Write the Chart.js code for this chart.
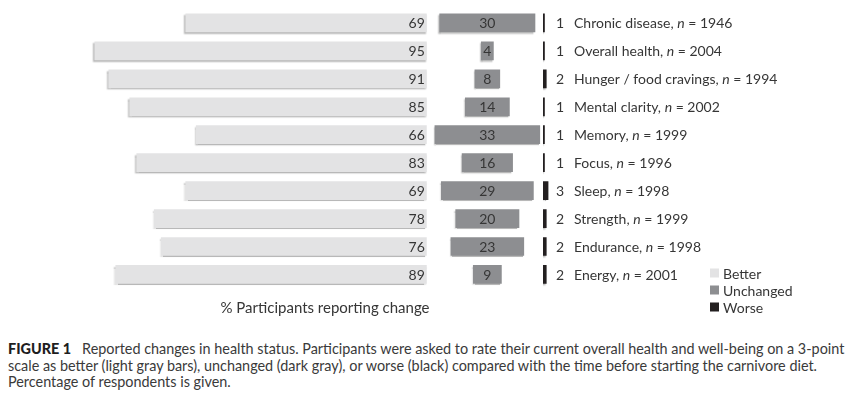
<!DOCTYPE html>
<html>
<head>
<meta charset="utf-8">
<script src="https://cdn.jsdelivr.net/npm/chart.js@4.4.0/dist/chart.umd.min.js"></script>
<style>
  body { margin: 0; background: #fff; width: 856px; height: 398px; overflow: hidden; font-family: Lato, sans-serif; }
  #wrap { position: absolute; left: 0; top: 0; width: 856px; height: 320px; }
  #caption { position: absolute; left: 8px; top: 341px; font-size: 14.4px; line-height: 16.7px; color: #3a3a3a; white-space: nowrap; }
  #caption b { color: #1e1e1e; font-weight: 900; }
</style>
</head>
<body>
<div id="wrap"><canvas id="chart"></canvas></div>
<div id="caption"><b>FIGURE 1</b>&nbsp;&nbsp; Reported changes in health status. Participants were asked to rate their current overall health and well-being on a 3-point<br>scale as better (light gray bars), unchanged (dark gray), or worse (black) compared with the time before starting the carnivore diet.<br>Percentage of respondents is given.</div>
<script>
const categories = ['Chronic disease', 'Overall health', 'Hunger / food cravings', 'Mental clarity', 'Memory',
    'Focus', 'Sleep', 'Strength', 'Endurance', 'Energy'];
const sampleSizes = [1946, 2004, 1994, 2002, 1999, 1996, 1998, 1999, 1998, 2001];
const better = [69, 95, 91, 85, 66, 83, 69, 78, 76, 89];
const unchanged = [30, 4, 8, 14, 33, 16, 29, 20, 23, 9];
const worse = [1, 1, 2, 1, 1, 1, 3, 2, 2, 2];

const textColor = '#363636';
const font = '14px Lato, sans-serif';

// soft shadow under the bars, like the original figure
const barShadow = {
    id: 'barShadow',
    beforeDatasetDraw(chart) {
        const ctx = chart.ctx;
        ctx.save();
        ctx.shadowColor = 'rgba(0,0,0,0.28)';
        ctx.shadowOffsetX = -1;
        ctx.shadowOffsetY = 1.5;
        ctx.shadowBlur = 1.5;
    },
    afterDatasetDraw(chart) {
        chart.ctx.restore();
    }
};

const labelsPlugin = {
    id: 'labelsPlugin',
    afterDatasetsDraw(chart) {
        const ctx = chart.ctx;
        ctx.save();
        ctx.font = font;
        ctx.fillStyle = textColor;
        ctx.textBaseline = 'middle';

        // better values, inside the bar end
        chart.getDatasetMeta(0).data.forEach((bar, i) => {
            ctx.textAlign = 'right';
            ctx.fillText(better[i], bar.base - 2, bar.y + 1);
        });
        // unchanged values, centred
        chart.getDatasetMeta(1).data.forEach((bar, i) => {
            ctx.textAlign = 'center';
            ctx.fillText(unchanged[i], (bar.x + bar.base) / 2, bar.y + 1);
        });
        // worse values and category labels
        chart.getDatasetMeta(2).data.forEach((bar, i) => {
            const y = bar.y + 1;
            ctx.textAlign = 'left';
            ctx.fillText(worse[i], bar.base + 13, y);
            let x = bar.base + 31;
            const parts = [[categories[i] + ', ', font], ['n', 'italic ' + font], [' = ' + sampleSizes[i], font]];
            parts.forEach(([t, f]) => {
                ctx.font = f;
                ctx.fillText(t, x, y);
                x += ctx.measureText(t).width;
            });
            ctx.font = font;
        });

        // axis title
        ctx.textAlign = 'center';
        ctx.font = '15px Lato, sans-serif';
        ctx.fillText('% Participants reporting change', 325, 308);

        // legend
        ctx.font = font;
        ctx.textAlign = 'left';
        chart.data.datasets.forEach((ds, i) => {
            const y = 273 + i * 17;
            ctx.fillStyle = ds.backgroundColor;
            ctx.fillRect(710, y - 4.5, 9, 9);
            ctx.fillStyle = textColor;
            ctx.fillText(ds.label, 723, y + 1);
        });
        ctx.restore();
    }
};

new Chart(document.getElementById('chart'), {
    type: 'bar',
    data: {
        labels: categories,
        datasets: [
            { label: 'Better', data: better, xAxisID: 'xBetter', backgroundColor: '#e3e3e4' },
            { label: 'Unchanged', data: unchanged.map(v => [-v / 2, v / 2]), xAxisID: 'xSame', backgroundColor: '#8d8e91' },
            { label: 'Worse', data: worse, xAxisID: 'xWorse', backgroundColor: '#231f20' }
        ]
    },
    options: {
        indexAxis: 'y',
        responsive: true,
        maintainAspectRatio: false,
        animation: false,
        layout: { padding: { top: 9, bottom: 31.6, left: 0, right: 0 } },
        datasets: {
            bar: { grouped: false, categoryPercentage: 1, barPercentage: 0.67, borderWidth: 0 }
        },
        scales: {
            y: { display: false, offset: true },
            xBetter: { axis: 'x', type: 'linear', position: 'bottom', stack: 'panels', stackWeight: 432,
                reverse: true, min: -1.5, max: 122, display: false },
            xSame: { axis: 'x', type: 'linear', position: 'bottom', stack: 'panels', stackWeight: 111,
                min: -17.3, max: 17.4, display: false },
            xWorse: { axis: 'x', type: 'linear', position: 'bottom', stack: 'panels', stackWeight: 313,
                min: 0, max: 174, display: false }
        },
        plugins: {
            legend: { display: false },
            tooltip: { enabled: false }
        }
    },
    plugins: [barShadow, labelsPlugin]
});
</script>
</body>
</html>
